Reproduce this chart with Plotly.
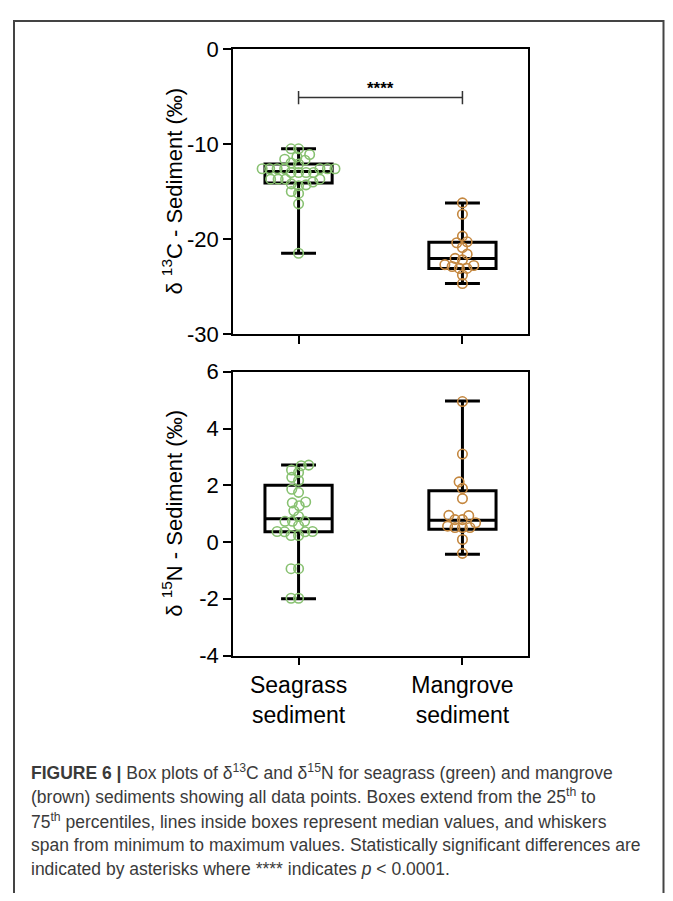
import math
import plotly.graph_objects as go

# ---------------- data ----------------
categories = ["Seagrass<br>sediment", "Mangrove<br>sediment"]

seagrass_d13c = [-10.5, -10.5, -11.1, -11.35, -11.6, -11.7, -12.0, -12.1,
                 -12.6, -12.6, -12.6, -12.6, -12.6, -12.6, -12.6,
                 -13.0, -13.0, -13.0, -13.0,
                 -13.7, -13.7, -13.7, -13.7,
                 -14.3, -14.2, -14.0, -14.4, -15.2, -15.0, -16.3, -21.5]
mangrove_d13c = [-16.2, -17.4, -19.7, -20.4, -20.3, -20.9, -21.6, -22.2,
                 -22.05, -22.8, -23.1, -23.1, -22.9, -22.7, -23.8, -24.7]

seagrass_d15n = [2.69, 2.71, 2.45, 2.54, 2.17, 2.28, 1.75, 1.86, 1.38, 1.41,
                 1.28, 1.10, 0.90, 0.73, 0.73, 0.73, 0.58,
                 0.37, 0.36, 0.23, 0.23, 0.36, 0.37, -0.94, -0.94, -1.98, -1.98]
mangrove_d15n = [4.95, 3.1, 2.12, 1.89, 1.53, 0.94, 0.93, 0.79, 0.79, 0.68,
                 0.51, 0.51, 0.51, 0.56, 0.09, -0.40]

# box statistics: [seagrass, mangrove]
c_min = [-21.5, -24.7]
c_q1 = [-14.1, -23.1]
c_med = [-12.9, -22.05]
c_q3 = [-12.1, -20.35]
c_max = [-10.5, -16.2]

n_min = [-2.0, -0.43]
n_q1 = [0.36, 0.45]
n_med = [0.82, 0.77]
n_q3 = [2.0, 1.81]
n_max = [2.71, 4.97]

c_ticks = [0, -10, -20, -30]
n_ticks = [6, 4, 2, 0, -2, -4]

sig_label = "<b>****</b>"
sig_y = -5.1

caption_lines = [
    "<b>FIGURE 6 |</b> Box plots of δ<sup>13</sup>C and δ<sup>15</sup>N for seagrass (green) and mangrove",
    "(brown) sediments showing all data points. Boxes extend from the 25<sup>th</sup> to",
    "75<sup>th</sup> percentiles, lines inside boxes represent median values, and whiskers",
    "span from minimum to maximum values. Statistically significant differences are",
    "indicated by asterisks where **** indicates <i>p</i> < 0.0001.",
]

# ---------------- geometry (page pixels; the page body adds an 8px margin) ----------------
OFF = 8
W, H = 673 - 2 * OFF, 901 - 2 * OFF
X0, X1 = 233, 528
TOP = (38, 331)
BOT = (370, 662)
XR = [-0.4, 1.4]
CR = [-30, 0]
NR = [-4, 6]

GREEN = "#88c171"
BROWN = "#c4873f"
DOT = 9.5
SEP = 7.5
FONT = "Liberation Sans, Arial, sans-serif"


def px(v):
    return (v - OFF) / W


def py(v):
    return 1 - (v - OFF) / H


x_ppu = (X1 - X0) / (XR[1] - XR[0])


def swarm(vals, y_ppu, d=SEP):
    n = len(vals)
    order = sorted(range(n), key=lambda i: vals[i])
    placed = []
    xs = [0.0] * n
    for i in order:
        y = vals[i] * y_ppu
        cands = [0.0]
        for xj, yj in placed:
            dy = y - yj
            if abs(dy) < d:
                dx = math.sqrt(d * d - dy * dy)
                cands += [xj + dx, xj - dx]
        cands.sort(key=lambda c: (abs(c), c))
        for c in cands:
            if all((c - xj) ** 2 + (y - yj) ** 2 >= d * d - 1e-6 for xj, yj in placed):
                xs[i] = c
                placed.append((c, y))
                break
    return [v / x_ppu for v in xs]


c_ppu = (TOP[1] - TOP[0]) / (CR[1] - CR[0])
n_ppu = (BOT[1] - BOT[0]) / (NR[1] - NR[0])

fig = go.Figure()

panels = [
    ("y", [c_min, c_q1, c_med, c_q3, c_max], [seagrass_d13c, mangrove_d13c], c_ppu),
    ("y2", [n_min, n_q1, n_med, n_q3, n_max], [seagrass_d15n, mangrove_d15n], n_ppu),
]
xax = {"y": "x", "y2": "x2"}
for yref, stats, series, ppu in panels:
    mn, q1, md, q3, mx = stats
    for k, (vals, col) in enumerate(zip(series, [GREEN, BROWN])):
        offs = swarm(vals, ppu)
        fig.add_trace(go.Scatter(
            x=[k + o for o in offs], y=vals, mode="markers",
            marker=dict(symbol="circle-open", size=DOT, color=col,
                        line=dict(width=1.6, color=col)),
            xaxis=xax[yref], yaxis=yref, showlegend=False, hoverinfo="skip"))
    for k in range(2):
        fig.add_trace(go.Box(
            x=[k], q1=[q1[k]], median=[md[k]], q3=[q3[k]],
            lowerfence=[mn[k]], upperfence=[mx[k]],
            width=0.41, whiskerwidth=0.52, boxpoints=False,
            line=dict(color="black", width=3), fillcolor="rgba(0,0,0,0)",
            xaxis=xax[yref], yaxis=yref, showlegend=False, hoverinfo="skip"))

axis_common = dict(showline=True, linecolor="black", linewidth=1.5, mirror=True,
                   ticks="outside", ticklen=8, tickwidth=1.5, tickcolor="black",
                   showgrid=False, zeroline=False)

fig.update_layout(
    width=W, height=H, margin=dict(l=0, r=0, t=0, b=0),
    paper_bgcolor="white", plot_bgcolor="white",
    xaxis=dict(domain=[px(X0), px(X1)], range=XR, anchor="y",
               tickvals=[0, 1], ticktext=["", ""], **axis_common),
    yaxis=dict(domain=[py(TOP[1]), py(TOP[0])], range=CR, anchor="x",
               tickvals=c_ticks, ticktext=[str(v) for v in c_ticks],
               tickfont=dict(family=FONT, size=22, color="black"), **axis_common),
    xaxis2=dict(domain=[px(X0), px(X1)], range=XR, anchor="y2",
                tickvals=[0, 1], ticktext=categories,
                tickfont=dict(family=FONT, size=23, color="black"), **axis_common),
    yaxis2=dict(domain=[py(BOT[1]), py(BOT[0])], range=NR, anchor="x2",
                tickvals=n_ticks, ticktext=[str(v) for v in n_ticks],
                tickfont=dict(family=FONT, size=22, color="black"), **axis_common),
)

# significance bracket
fig.add_shape(type="line", x0=0, x1=1, y0=sig_y, y1=sig_y, xref="x", yref="y",
              line=dict(color="#333", width=1.5))
for xe in (0, 1):
    fig.add_shape(type="line", x0=xe, x1=xe, y0=sig_y + 0.7, y1=sig_y - 0.7,
                  xref="x", yref="y", line=dict(color="#333", width=1.5))
fig.add_annotation(x=0.5, y=sig_y, xref="x", yref="y", text=sig_label,
                   showarrow=False, yanchor="bottom", yshift=-2,
                   font=dict(family=FONT, size=17, color="black"))

# y-axis titles
for text, (a, b) in [("δ <sup>13</sup>C - Sediment (‰)", TOP),
                     ("δ <sup>15</sup>N - Sediment (‰)", BOT)]:
    fig.add_annotation(x=px(172), y=py((a + b) / 2), xref="paper", yref="paper",
                       xanchor="center", yanchor="middle",
                       text=text, textangle=-90, showarrow=False,
                       font=dict(family=FONT, size=22, color="black"))

# outer frame (right edge kept inside the drawable area)
fig.add_shape(type="rect", xref="paper", yref="paper",
              x0=px(14), x1=px(OFF + W - 1.5), y0=py(915), y1=py(9),
              line=dict(color="#444", width=2), fillcolor="rgba(0,0,0,0)")

# caption
for i, line in enumerate(caption_lines):
    fig.add_annotation(x=px(29), y=py(782 + 25 * i), xref="paper", yref="paper",
                       xanchor="left", yanchor="middle", text=line, showarrow=False,
                       font=dict(family=FONT, size=17.5, color="#3a3a3a"))

fig.write_html("out.html")
